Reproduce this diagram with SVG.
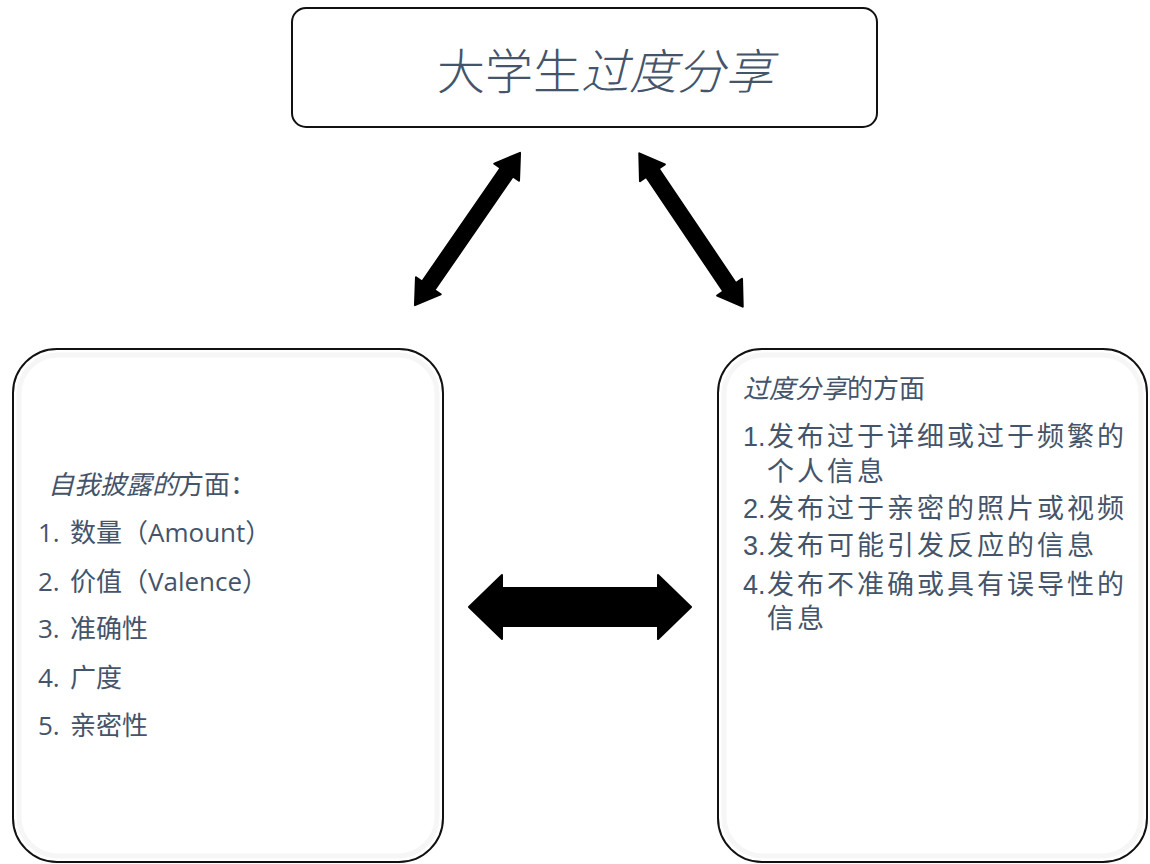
<svg xmlns="http://www.w3.org/2000/svg" width="1150" height="864" viewBox="0 0 1150 864">
  <style>
    .box { fill: #ffffff; stroke: #111111; stroke-width: 2; }
    .inner { fill: none; stroke: #f6f6f6; stroke-width: 5; }
    .txt { font-family: "Open Sans", "Noto Sans CJK SC", sans-serif; fill: #44546A; }
    .rtxt { font-family: "Liberation Sans", "Noto Sans CJK SC", sans-serif; fill: #44546A; }
    .title { font-size: 48px; font-weight: 300; }
    .lt { font-size: 26px; }
    .rt { font-size: 27px; }
    .ls { letter-spacing: 3px; }
    .rh { font-size: 26px; }
    .it { font-style: italic; }
    .arrow { fill: #000000; stroke: #000000; stroke-width: 2; stroke-linejoin: round; }
  </style>
  <defs>
    <path id="diagArrow" d="M-92.5,0 L-69,-15 L-69,-7.5 L69,-7.5 L69,-15 L92.5,0 L69,15 L69,7.5 L-69,7.5 L-69,15 Z"/>
  </defs>
  <rect width="1150" height="864" fill="#ffffff"/>

  <g id="connectors">
    <use href="#diagArrow" class="arrow" transform="translate(467.5,229) rotate(-55.4)"/>
    <use href="#diagArrow" class="arrow" transform="translate(691,230) rotate(56)"/>
    <path class="arrow" d="M469,607 L502,575 L502,588 L658,588 L658,575 L691,607 L658,639 L658,626 L502,626 L502,639 Z"/>
  </g>

  <g id="node-top">
    <rect class="box" x="292" y="8" width="585" height="119" rx="14" ry="14"/>
    <text class="txt title" x="437" y="89">大学生<tspan class="it">过度分享</tspan></text>
  </g>

  <g id="node-left">
    <rect class="box" x="13" y="349" width="430" height="513" rx="44" ry="44"/>
    <rect class="inner" x="19" y="355" width="418" height="501" rx="39" ry="39"/>
    <text class="txt lt" x="48" y="494"><tspan class="it">自我披露的</tspan>方面：</text>
    <text class="txt lt" x="38" y="542">1.<tspan x="70">数量（Amount）</tspan></text>
    <text class="txt lt" x="38" y="591">2.<tspan x="70">价值（Valence）</tspan></text>
    <text class="txt lt" x="38" y="638">3.<tspan x="70">准确性</tspan></text>
    <text class="txt lt" x="38" y="687">4.<tspan x="70">广度</tspan></text>
    <text class="txt lt" x="38" y="735">5.<tspan x="70">亲密性</tspan></text>
  </g>

  <g id="node-right">
    <rect class="box" x="718" y="349" width="429" height="513" rx="44" ry="44"/>
    <rect class="inner" x="724" y="355" width="417" height="501" rx="39" ry="39"/>
    <text class="txt rh" x="743" y="398"><tspan class="it">过度分享</tspan>的方面</text>
    <text class="rtxt rt" x="743" y="446">1.<tspan class="ls" x="767">发布过于详细或过于频繁的</tspan><tspan class="ls" x="767" y="481">个人信息</tspan></text>
    <text class="rtxt rt" x="743" y="518">2.<tspan class="ls" x="767">发布过于亲密的照片或视频</tspan></text>
    <text class="rtxt rt" x="743" y="555">3.<tspan class="ls" x="767">发布可能引发反应的信息</tspan></text>
    <text class="rtxt rt" x="743" y="594">4.<tspan class="ls" x="767">发布不准确或具有误导性的</tspan><tspan class="ls" x="767" y="628">信息</tspan></text>
  </g>
</svg>
